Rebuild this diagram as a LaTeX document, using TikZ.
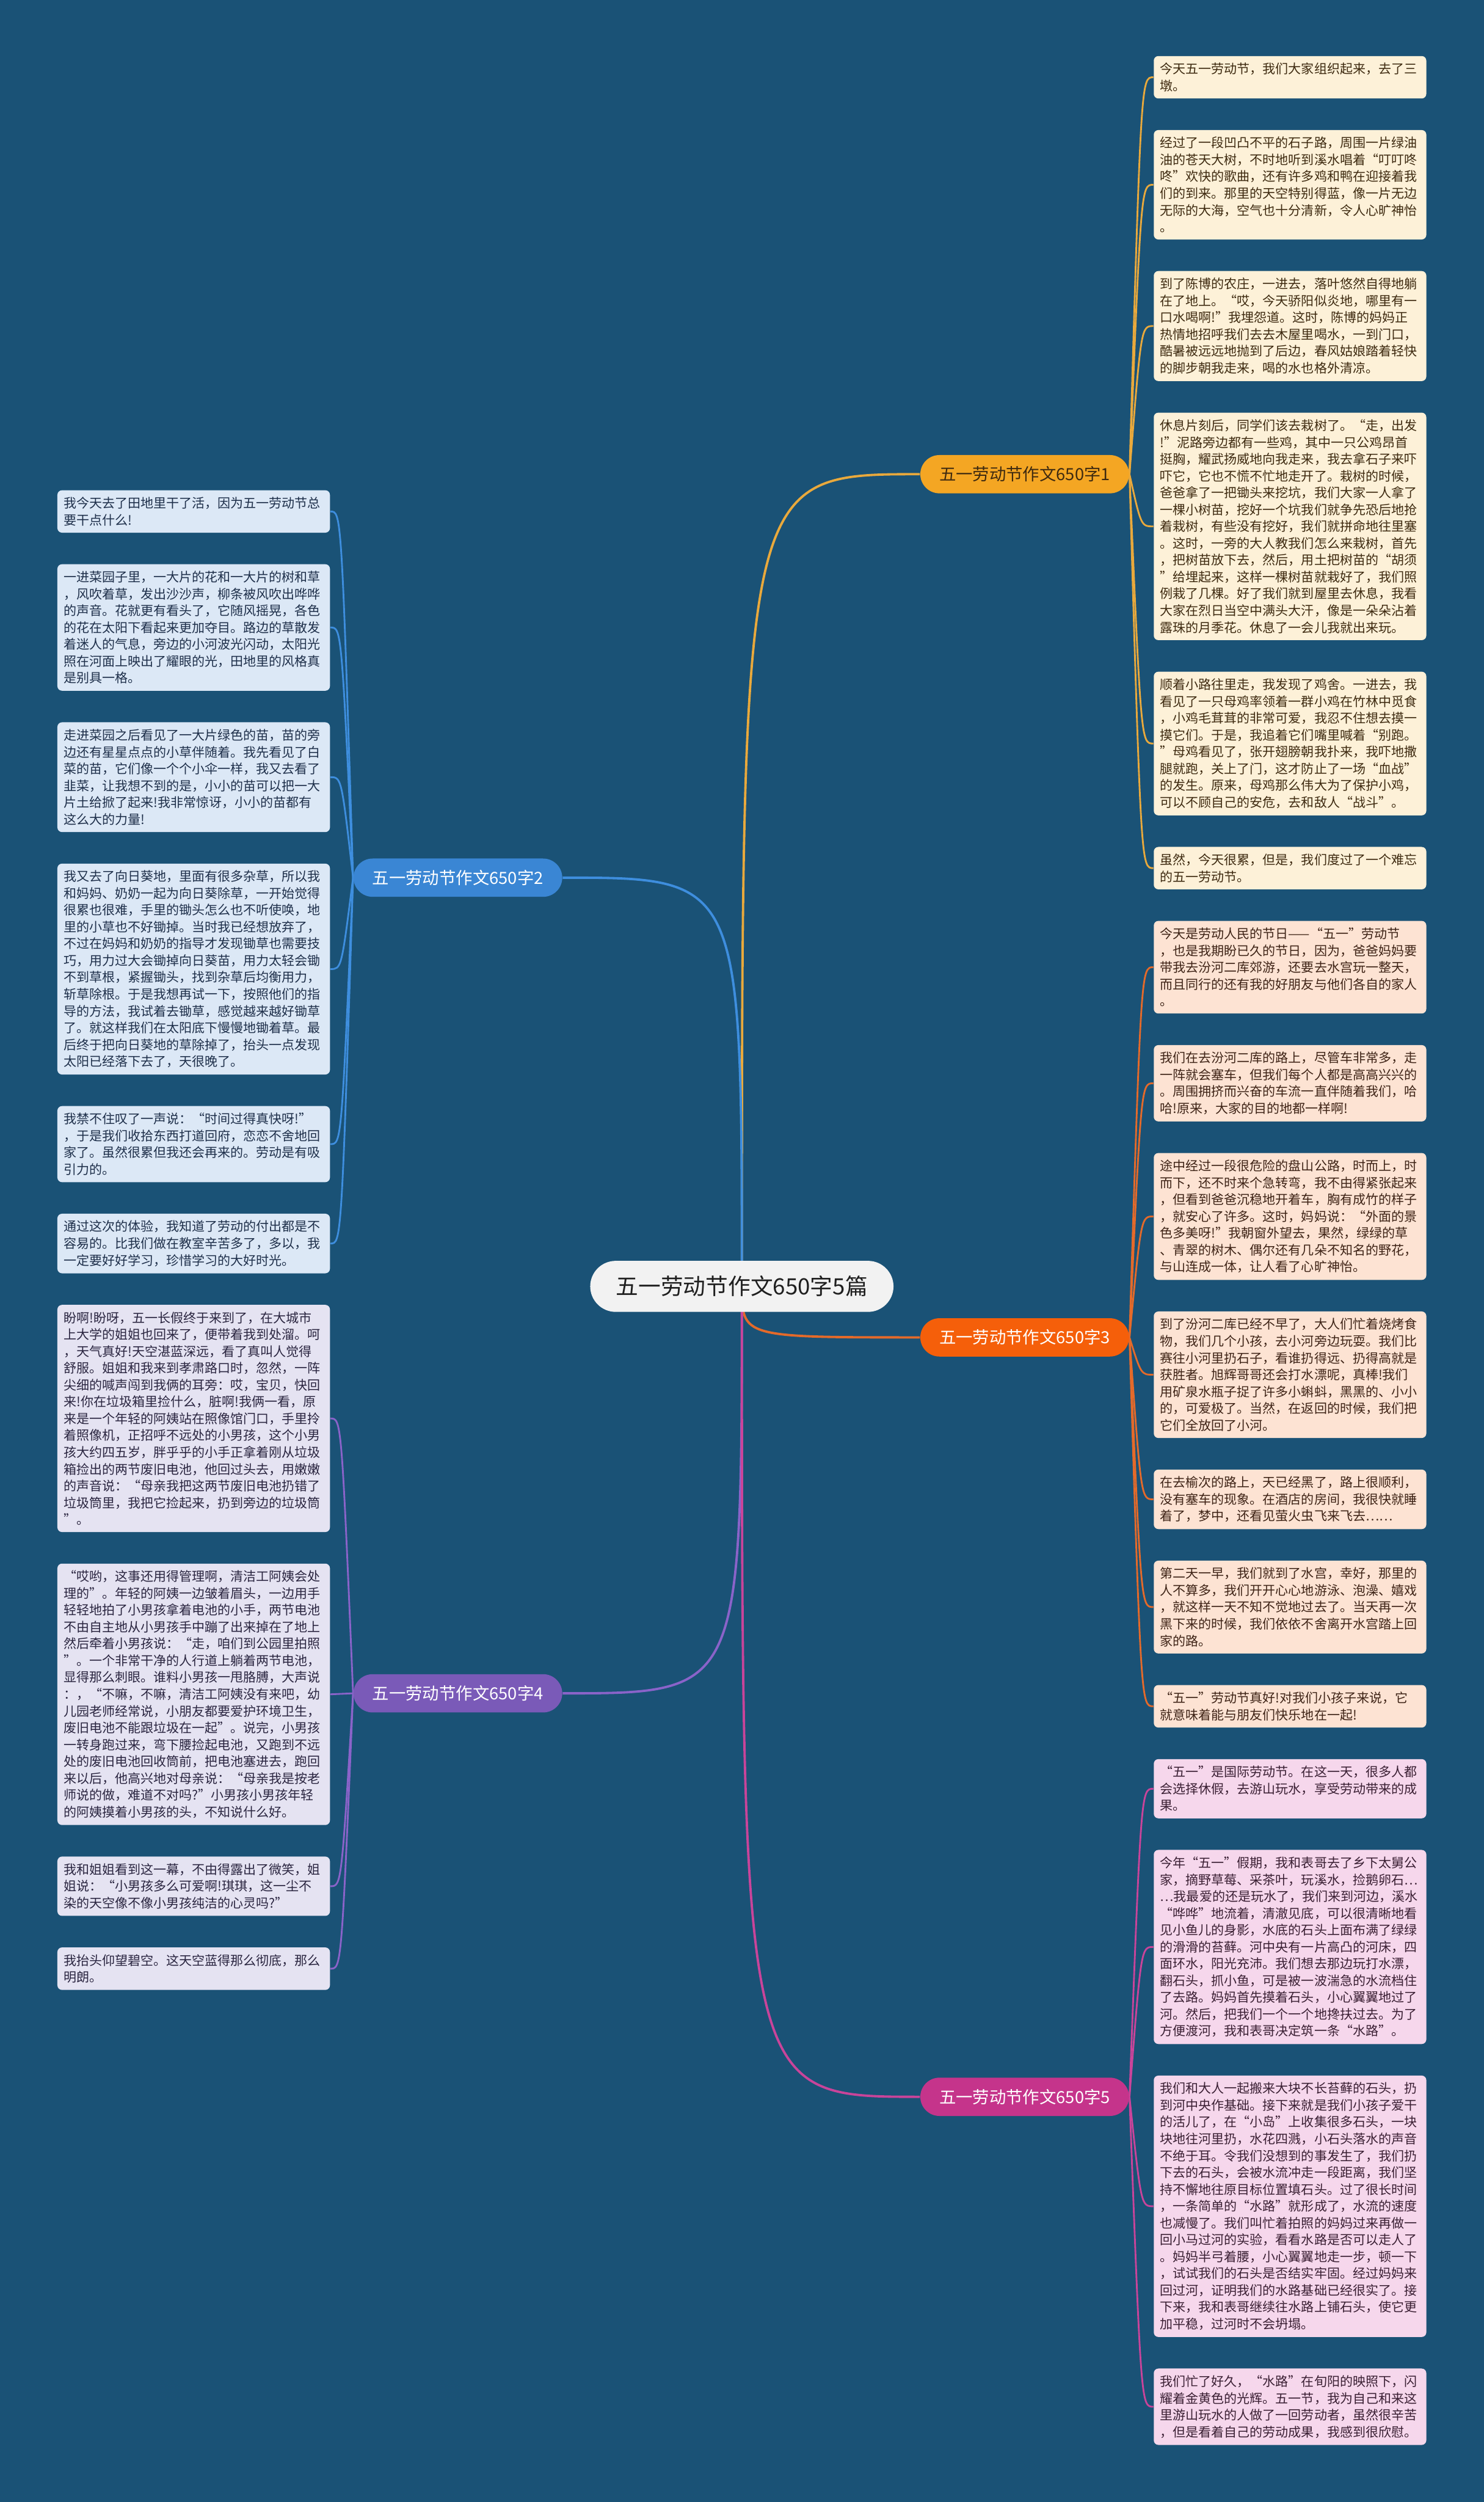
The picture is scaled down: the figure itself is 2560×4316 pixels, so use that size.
\documentclass[tikz,border=0pt]{standalone}
\usepackage{fontspec}
\setmainfont{Noto Sans CJK SC}
\usetikzlibrary{positioning,backgrounds}
\definecolor{bgblue}{HTML}{1A5276}
\definecolor{ya}{HTML}{F4A623}
\definecolor{yl}{HTML}{E9A93C}
\definecolor{yf}{HTML}{FDF1D8}
\definecolor{yt}{HTML}{3E2A10}
\definecolor{ba}{HTML}{3A86D4}
\definecolor{bl}{HTML}{3E8EDE}
\definecolor{bf}{HTML}{DCE8F6}
\definecolor{bt}{HTML}{1E2F4A}
\definecolor{oa}{HTML}{F55F0A}
\definecolor{ol}{HTML}{E46A2A}
\definecolor{of}{HTML}{FDE3D3}
\definecolor{ot}{HTML}{3E2316}
\definecolor{pa}{HTML}{7A5AB8}
\definecolor{pl}{HTML}{8A63C9}
\definecolor{pf}{HTML}{E5E3F2}
\definecolor{pt}{HTML}{2A2540}
\definecolor{ma}{HTML}{C5348B}
\definecolor{ml}{HTML}{C9449A}
\definecolor{mf}{HTML}{F6D7EC}
\definecolor{mt}{HTML}{3A1F33}
\tikzset{
  leaf/.style={rounded corners=0.08cm, text width=4.48cm, inner xsep=0.11cm,
    inner ysep=0.118cm, align=left, font=\fontsize{6.3pt}{8.25pt}\selectfont},
  leafy/.style={leaf, fill=yf, text=yt},
  leafb/.style={leaf, fill=bf, text=bt},
  leafo/.style={leaf, fill=of, text=ot},
  leafp/.style={leaf, fill=pf, text=pt},
  leafm/.style={leaf, fill=mf, text=mt},
  branch/.style={rounded corners=0.33cm, minimum height=0.66cm, minimum width=3.6cm,
    inner sep=0pt, text=white, font=\fontsize{8.2pt}{9pt}\selectfont},
  twig/.style={line width=0.85pt},
  limb/.style={line width=1.15pt}
}
\begin{document}
\begin{tikzpicture}[x=0.01cm, y=-0.01cm]
\useasboundingbox (0,0) rectangle (2560,4316);

\node[rounded corners=0.44cm, minimum height=0.88cm, minimum width=5.23cm, fill=black!5,
  text=black!88, font=\fontsize{11pt}{12pt}\selectfont] (root) at (1280,2219) {五一劳动节作文650字5篇};

\node[branch, fill=ya, text=yt] (b1) at (1768,818) {五一劳动节作文650字1};
\node[branch, fill=ba] (b2) at (790,1514) {五一劳动节作文650字2};
\node[branch, fill=oa] (b3) at (1768,2307) {五一劳动节作文650字3};
\node[branch, fill=pa] (b4) at (790,2921) {五一劳动节作文650字4};
\node[branch, fill=ma] (b5) at (1768,3617) {五一劳动节作文650字5};

% right column
\node[leafy, anchor=north west] (y1) at (1990,96) {今天五一劳动节，我们大家组织起来，去了三\\
墩。};
\node[leafy, below=0.53cm of y1] (y2) {经过了一段凹凸不平的石子路，周围一片绿油\\
油的苍天大树，不时地听到溪水唱着“叮叮咚\\
咚”欢快的歌曲，还有许多鸡和鸭在迎接着我\\
们的到来。那里的天空特别得蓝，像一片无边\\
无际的大海，空气也十分清新，令人心旷神怡\\
。};
\node[leafy, below=0.53cm of y2] (y3) {到了陈博的农庄，一进去，落叶悠然自得地躺\\
在了地上。“哎，今天骄阳似炎地，哪里有一\\
口水喝啊!”我埋怨道。这时，陈博的妈妈正\\
热情地招呼我们去去木屋里喝水，一到门口，\\
酷暑被远远地抛到了后边，春风姑娘踏着轻快\\
的脚步朝我走来，喝的水也格外清凉。};
\node[leafy, below=0.53cm of y3] (y4) {休息片刻后，同学们该去栽树了。“走，出发\\
!”泥路旁边都有一些鸡，其中一只公鸡昂首\\
挺胸，耀武扬威地向我走来，我去拿石子来吓\\
吓它，它也不慌不忙地走开了。栽树的时候，\\
爸爸拿了一把锄头来挖坑，我们大家一人拿了\\
一棵小树苗，挖好一个坑我们就争先恐后地抢\\
着栽树，有些没有挖好，我们就拼命地往里塞\\
。这时，一旁的大人教我们怎么来栽树，首先\\
，把树苗放下去，然后，用土把树苗的“胡须\\
”给埋起来，这样一棵树苗就栽好了，我们照\\
例栽了几棵。好了我们就到屋里去休息，我看\\
大家在烈日当空中满头大汗，像是一朵朵沾着\\
露珠的月季花。休息了一会儿我就出来玩。};
\node[leafy, below=0.53cm of y4] (y5) {顺着小路往里走，我发现了鸡舍。一进去，我\\
看见了一只母鸡率领着一群小鸡在竹林中觅食\\
，小鸡毛茸茸的非常可爱，我忍不住想去摸一\\
摸它们。于是，我追着它们嘴里喊着“别跑。\\
”母鸡看见了，张开翅膀朝我扑来，我吓地撒\\
腿就跑，关上了门，这才防止了一场“血战”\\
的发生。原来，母鸡那么伟大为了保护小鸡，\\
可以不顾自己的安危，去和敌人“战斗”。};
\node[leafy, below=0.53cm of y5] (y6) {虽然，今天很累，但是，我们度过了一个难忘\\
的五一劳动节。};

\node[leafo, below=0.53cm of y6] (o1) {今天是劳动人民的节日——“五一”劳动节\\
，也是我期盼已久的节日，因为，爸爸妈妈要\\
带我去汾河二库郊游，还要去水宫玩一整天，\\
而且同行的还有我的好朋友与他们各自的家人\\
。};
\node[leafo, below=0.53cm of o1] (o2) {我们在去汾河二库的路上，尽管车非常多，走\\
一阵就会塞车，但我们每个人都是高高兴兴的\\
。周围拥挤而兴奋的车流一直伴随着我们，哈\\
哈!原来，大家的目的地都一样啊!};
\node[leafo, below=0.53cm of o2] (o3) {途中经过一段很危险的盘山公路，时而上，时\\
而下，还不时来个急转弯，我不由得紧张起来\\
，但看到爸爸沉稳地开着车，胸有成竹的样子\\
，就安心了许多。这时，妈妈说：“外面的景\\
色多美呀!”我朝窗外望去，果然，绿绿的草\\
、青翠的树木、偶尔还有几朵不知名的野花，\\
与山连成一体，让人看了心旷神怡。};
\node[leafo, below=0.53cm of o3] (o4) {到了汾河二库已经不早了，大人们忙着烧烤食\\
物，我们几个小孩，去小河旁边玩耍。我们比\\
赛往小河里扔石子，看谁扔得远、扔得高就是\\
获胜者。旭辉哥哥还会打水漂呢，真棒!我们\\
用矿泉水瓶子捉了许多小蝌蚪，黑黑的、小小\\
的，可爱极了。当然，在返回的时候，我们把\\
它们全放回了小河。};
\node[leafo, below=0.53cm of o4] (o5) {在去榆次的路上，天已经黑了，路上很顺利，\\
没有塞车的现象。在酒店的房间，我很快就睡\\
着了，梦中，还看见萤火虫飞来飞去……};
\node[leafo, below=0.53cm of o5] (o6) {第二天一早，我们就到了水宫，幸好，那里的\\
人不算多，我们开开心心地游泳、泡澡、嬉戏\\
，就这样一天不知不觉地过去了。当天再一次\\
黑下来的时候，我们依依不舍离开水宫踏上回\\
家的路。};
\node[leafo, below=0.53cm of o6] (o7) {“五一”劳动节真好!对我们小孩子来说，它\\
就意味着能与朋友们快乐地在一起!};

\node[leafm, below=0.53cm of o7] (m1) {“五一”是国际劳动节。在这一天，很多人都\\
会选择休假，去游山玩水，享受劳动带来的成\\
果。};
\node[leafm, below=0.53cm of m1] (m2) {今年“五一”假期，我和表哥去了乡下太舅公\\
家，摘野草莓、采茶叶，玩溪水，捡鹅卵石…\\
…我最爱的还是玩水了，我们来到河边，溪水\\
“哗哗”地流着，清澈见底，可以很清晰地看\\
见小鱼儿的身影，水底的石头上面布满了绿绿\\
的滑滑的苔藓。河中央有一片高凸的河床，四\\
面环水，阳光充沛。我们想去那边玩打水漂，\\
翻石头，抓小鱼，可是被一波湍急的水流档住\\
了去路。妈妈首先摸着石头，小心翼翼地过了\\
河。然后，把我们一个一个地搀扶过去。为了\\
方便渡河，我和表哥决定筑一条“水路”。};
\node[leafm, below=0.53cm of m2] (m3) {我们和大人一起搬来大块不长苔藓的石头，扔\\
到河中央作基础。接下来就是我们小孩子爱干\\
的活儿了，在“小岛”上收集很多石头，一块\\
块地往河里扔，水花四溅，小石头落水的声音\\
不绝于耳。令我们没想到的事发生了，我们扔\\
下去的石头，会被水流冲走一段距离，我们坚\\
持不懈地往原目标位置填石头。过了很长时间\\
，一条简单的“水路”就形成了，水流的速度\\
也减慢了。我们叫忙着拍照的妈妈过来再做一\\
回小马过河的实验，看看水路是否可以走人了\\
。妈妈半弓着腰，小心翼翼地走一步，顿一下\\
，试试我们的石头是否结实牢固。经过妈妈来\\
回过河，证明我们的水路基础已经很实了。接\\
下来，我和表哥继续往水路上铺石头，使它更\\
加平稳，过河时不会坍塌。};
\node[leafm, below=0.53cm of m3] (m4) {我们忙了好久，“水路”在旬阳的映照下，闪\\
耀着金黄色的光辉。五一节，我为自己和来这\\
里游山玩水的人做了一回劳动者，虽然很辛苦\\
，但是看着自己的劳动成果，我感到很欣慰。};

% left column
\node[leafb, anchor=north east] (l1) at (570,845) {我今天去了田地里干了活，因为五一劳动节总\\
要干点什么!};
\node[leafb, below=0.53cm of l1] (l2) {一进菜园子里，一大片的花和一大片的树和草\\
，风吹着草，发出沙沙声，柳条被风吹出哗哗\\
的声音。花就更有看头了，它随风摇晃，各色\\
的花在太阳下看起来更加夺目。路边的草散发\\
着迷人的气息，旁边的小河波光闪动，太阳光\\
照在河面上映出了耀眼的光，田地里的风格真\\
是别具一格。};
\node[leafb, below=0.53cm of l2] (l3) {走进菜园之后看见了一大片绿色的苗，苗的旁\\
边还有星星点点的小草伴随着。我先看见了白\\
菜的苗，它们像一个个小伞一样，我又去看了\\
韭菜，让我想不到的是，小小的苗可以把一大\\
片土给掀了起来!我非常惊讶，小小的苗都有\\
这么大的力量!};
\node[leafb, below=0.53cm of l3] (l4) {我又去了向日葵地，里面有很多杂草，所以我\\
和妈妈、奶奶一起为向日葵除草，一开始觉得\\
很累也很难，手里的锄头怎么也不听使唤，地\\
里的小草也不好锄掉。当时我已经想放弃了，\\
不过在妈妈和奶奶的指导才发现锄草也需要技\\
巧，用力过大会锄掉向日葵苗，用力太轻会锄\\
不到草根，紧握锄头，找到杂草后均衡用力，\\
斩草除根。于是我想再试一下，按照他们的指\\
导的方法，我试着去锄草，感觉越来越好锄草\\
了。就这样我们在太阳底下慢慢地锄着草。最\\
后终于把向日葵地的草除掉了，抬头一点发现\\
太阳已经落下去了，天很晚了。};
\node[leafb, below=0.53cm of l4] (l5) {我禁不住叹了一声说：“时间过得真快呀!”\\
，于是我们收拾东西打道回府，恋恋不舍地回\\
家了。虽然很累但我还会再来的。劳动是有吸\\
引力的。};
\node[leafb, below=0.53cm of l5] (l6) {通过这次的体验，我知道了劳动的付出都是不\\
容易的。比我们做在教室辛苦多了，多以，我\\
一定要好好学习，珍惜学习的大好时光。};

\node[leafp, below=0.53cm of l6] (p1) {盼啊!盼呀，五一长假终于来到了，在大城市\\
上大学的姐姐也回来了，便带着我到处溜。呵\\
，天气真好!天空湛蓝深远，看了真叫人觉得\\
舒服。姐姐和我来到孝肃路口时，忽然，一阵\\
尖细的喊声闯到我俩的耳旁：哎，宝贝，快回\\
来!你在垃圾箱里捡什么，脏啊!我俩一看，原\\
来是一个年轻的阿姨站在照像馆门口，手里拎\\
着照像机，正招呼不远处的小男孩，这个小男\\
孩大约四五岁，胖乎乎的小手正拿着刚从垃圾\\
箱捡出的两节废旧电池，他回过头去，用嫩嫩\\
的声音说：“母亲我把这两节废旧电池扔错了\\
垃圾筒里，我把它捡起来，扔到旁边的垃圾筒\\
”。};
\node[leafp, below=0.53cm of p1] (p2) {“哎哟，这事还用得管理啊，清洁工阿姨会处\\
理的”。年轻的阿姨一边皱着眉头，一边用手\\
轻轻地拍了小男孩拿着电池的小手，两节电池\\
不由自主地从小男孩手中蹦了出来掉在了地上\\
然后牵着小男孩说：“走，咱们到公园里拍照\\
”。一个非常干净的人行道上躺着两节电池，\\
显得那么刺眼。谁料小男孩一甩胳膊，大声说\\
：，“不嘛，不嘛，清洁工阿姨没有来吧，幼\\
儿园老师经常说，小朋友都要爱护环境卫生，\\
废旧电池不能跟垃圾在一起”。说完，小男孩\\
一转身跑过来，弯下腰捡起电池，又跑到不远\\
处的废旧电池回收筒前，把电池塞进去，跑回\\
来以后，他高兴地对母亲说：“母亲我是按老\\
师说的做，难道不对吗?”小男孩小男孩年轻\\
的阿姨摸着小男孩的头，不知说什么好。};
\node[leafp, below=0.53cm of p2] (p3) {我和姐姐看到这一幕，不由得露出了微笑，姐\\
姐说：“小男孩多么可爱啊!琪琪，这一尘不\\
染的天空像不像小男孩纯洁的心灵吗?”};
\node[leafp, below=0.53cm of p3] (p4) {我抬头仰望碧空。这天空蓝得那么彻底，那么\\
明朗。};

\begin{scope}[on background layer]
\fill[bgblue] (0,0) rectangle (2560,4316);
\draw[limb, yl] (root.center) .. controls (root.center |- b1.west) .. (b1.west);
\draw[limb, bl] (root.center) .. controls (root.center |- b2.east) .. (b2.east);
\draw[limb, ol] (root.center) .. controls (root.center |- b3.west) .. (b3.west);
\draw[limb, pl] (root.center) .. controls (root.center |- b4.east) .. (b4.east);
\draw[limb, ml] (root.center) .. controls (root.center |- b5.west) .. (b5.west);
\coordinate (k1) at ([xshift=0.2cm]b1.east);
\coordinate (k2) at ([xshift=-0.2cm]b2.west);
\coordinate (k3) at ([xshift=0.2cm]b3.east);
\coordinate (k4) at ([xshift=-0.2cm]b4.west);
\coordinate (k5) at ([xshift=0.2cm]b5.east);
\foreach \n in {y1,y2,y3,y4,y5,y6}
  \draw[twig, yl] (b1.east) .. controls (k1 |- \n.west) .. (\n.west);
\foreach \n in {l1,l2,l3,l4,l5,l6}
  \draw[twig, bl] (b2.west) .. controls (k2 |- \n.east) .. (\n.east);
\foreach \n in {o1,o2,o3,o4,o5,o6,o7}
  \draw[twig, ol] (b3.east) .. controls (k3 |- \n.west) .. (\n.west);
\foreach \n in {p1,p2,p3,p4}
  \draw[twig, pl] (b4.west) .. controls (k4 |- \n.east) .. (\n.east);
\foreach \n in {m1,m2,m3,m4}
  \draw[twig, ml] (b5.east) .. controls (k5 |- \n.west) .. (\n.west);
\end{scope}
\end{tikzpicture}
\end{document}
